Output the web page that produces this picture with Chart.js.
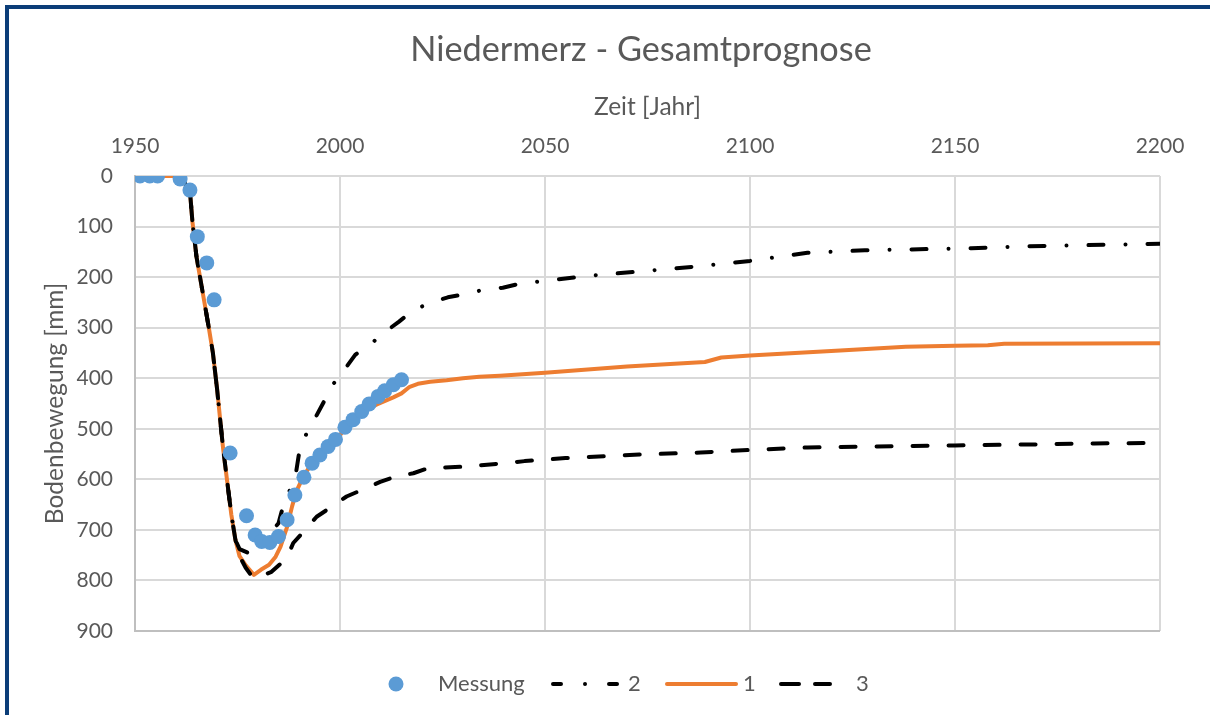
<!DOCTYPE html>
<html>
<head>
<meta charset="utf-8">
<script src="https://cdn.jsdelivr.net/npm/chart.js@4.4.1/dist/chart.umd.min.js"></script>
<style>
  html, body { margin: 0; padding: 0; background: #fff; overflow: hidden; }
  #wrap { position: relative; width: 1210px; height: 715px; }
  #frame { position: absolute; left: 5px; top: 5px; right: -10px; bottom: -10px;
           border-left: 4px solid #0b3d78; border-top: 4px solid #0b3d78; pointer-events: none; }
</style>
</head>
<body>
<div id="wrap">
  <canvas id="chart" width="1210" height="715"></canvas>
  <div id="frame"></div>
</div>
<script>
// ---- data ----
const TITLE = "Niedermerz - Gesamtprognose";
const X_TITLE = "Zeit [Jahr]";
const Y_TITLE = "Bodenbewegung [mm]";

// Messung (blue points)
const messungYears  = [1951.2, 1953.6, 1955.5, 1961, 1963.4, 1965.2, 1967.5, 1969.3, 1973.2, 1977.2, 1979.3, 1980.9, 1982.9,
                       1985, 1987.1, 1989, 1991.2, 1993.2, 1995.1, 1997.1, 1998.9, 2001.2, 2003.2, 2005.3, 2007.1, 2009.3, 2010.9, 2013, 2015];
const messungValues = [0, 0, 0, 6, 28, 120, 172, 245, 548, 672, 710, 723, 725,
                       713, 680, 631, 596, 568, 552, 535, 521, 497, 482, 466, 451, 436, 425, 413, 403];

// Prognose 1 (orange)
const years1  = [1951, 1960, 1962, 1963.5, 1964, 1965, 1966.5, 1968, 1969, 1970, 1971.5, 1973.5, 1974.5, 1975.5, 1977, 1979,
                 1980.7, 1982.7, 1984.3, 1985.5, 1987.1, 1988.3, 1989.3, 1991, 1993, 1995, 1997, 1999, 2001, 2003, 2005, 2007,
                 2009, 2011, 2013, 2015, 2017, 2019, 2022, 2026, 2030, 2034, 2039, 2050, 2070, 2089, 2093, 2100, 2122, 2138,
                 2150, 2158, 2162, 2200];
const values1 = [0, 0, 10, 40, 90, 160, 230, 300, 350, 420, 540, 670, 720, 752, 770, 789,
                 779, 769, 753, 733, 694, 654, 625, 595, 570, 553, 537, 522, 503, 488, 472, 460,
                 452, 445, 438, 430, 417, 411, 407, 404, 400, 397, 395, 389, 377, 368, 359, 355, 345, 338,
                 336, 335, 332, 331];

// Prognose 2 (dash-dot)
const years2  = [1951, 1960, 1962, 1963.5, 1964, 1965, 1966.5, 1968, 1969, 1970, 1971.5, 1973.5, 1974.5, 1975.5, 1977.5,
                 1979.7, 1981.5, 1983.3, 1985, 1986.2, 1987.8, 1989, 1990.1, 1992, 1994, 1996.1, 1998.5, 2001, 2003.7,
                 2006, 2007.7, 2010.6, 2014.4, 2018, 2022, 2026.3, 2031, 2035, 2039.7, 2044, 2046.3, 2060, 2073, 2087,
                 2100, 2114, 2128, 2154, 2167, 2181, 2200];
const values2 = [0, 0, 10, 40, 90, 160, 230, 300, 350, 420, 540, 670, 720, 738, 745,
                 746, 725, 703, 687, 651, 621, 601, 544, 506, 478, 446, 410, 384, 354,
                 340, 331, 311, 288, 265, 251, 240, 233, 225, 221, 213, 211, 198, 189, 179,
                 168, 152, 147, 143, 139, 137, 134];

// Prognose 3 (dashed)
const years3  = [1951, 1960, 1962, 1963.5, 1964, 1965, 1966.5, 1968, 1969, 1970, 1971.5, 1973.5, 1974.5, 1975.5, 1977,
                 1978.9, 1980.5, 1983.3, 1987, 1988.6, 1991.5, 1994.3, 1998, 2001.6, 2005.3, 2009.8, 2013.4, 2017.9, 2021.5,
                 2030, 2039, 2045, 2055, 2073, 2088, 2097, 2114, 2131, 2150, 2169, 2184, 2200];
const values3 = [0, 0, 10, 40, 90, 160, 230, 300, 350, 420, 540, 670, 720, 752, 775,
                 796, 792, 783, 756, 726, 700, 674, 654, 634, 621, 605, 595, 588, 578,
                 575, 569, 564, 558, 551, 547, 543, 537, 535, 533, 531, 529, 528];

const xTicks = [1950, 2000, 2050, 2100, 2150, 2200];
const yTicks = [0, 100, 200, 300, 400, 500, 600, 700, 800, 900];

// ---- helpers ----
const pts = (xs, ys) => xs.map((x, i) => ({ x: x, y: ys[i] }));
const FONT = "Lato";
const TXT = "#595959";
const BLUE = "#5B9BD5", ORANGE = "#ED7D31", BLACK = "#000000";

// title is centred a bit right of the canvas middle, like in the original
const titleShift = {
  id: "titleShift",
  afterLayout(chart) {
    if (chart.titleBlock) { chart.titleBlock.left = 122; chart.titleBlock.right = 1160; }
  }
};

// hand drawn legend in the style of the original
const legendPlugin = {
  id: "bottomLegend",
  afterDraw(chart) {
    const ctx = chart.ctx;
    const y = 684;
    ctx.save();
    ctx.font = "22px " + FONT;
    ctx.fillStyle = TXT;
    ctx.textBaseline = "middle";
    ctx.textAlign = "left";

    ctx.beginPath();
    ctx.fillStyle = BLUE;
    ctx.arc(396, y, 7.5, 0, Math.PI * 2);
    ctx.fill();
    ctx.fillStyle = TXT;
    ctx.fillText("Messung", 438, y);

    ctx.lineWidth = 4;
    ctx.lineCap = "round";
    ctx.strokeStyle = BLACK;
    ctx.setLineDash([8, 24, 0.01, 24]);
    ctx.beginPath(); ctx.moveTo(553, y); ctx.lineTo(618, y); ctx.stroke();
    ctx.fillText("2", 628, y);

    ctx.setLineDash([]);
    ctx.strokeStyle = ORANGE;
    ctx.beginPath(); ctx.moveTo(667, y); ctx.lineTo(736, y); ctx.stroke();
    ctx.fillText("1", 743, y);

    ctx.strokeStyle = BLACK;
    ctx.setLineDash([18, 16]);
    ctx.beginPath(); ctx.moveTo(781, y); ctx.lineTo(830, y); ctx.stroke();
    ctx.setLineDash([]);
    ctx.fillText("3", 856, y);
    ctx.restore();
  }
};

const ctx = document.getElementById("chart").getContext("2d");
const chart = new Chart(ctx, {
  type: "scatter",
  data: {
    datasets: [
      { label: "Messung", data: pts(messungYears, messungValues), showLine: false,
        pointRadius: 7.5, pointHoverRadius: 7.5, pointBackgroundColor: BLUE, pointBorderWidth: 0, order: 0 },
      { label: "2", data: pts(years2, values2), showLine: true, pointRadius: 0, borderColor: BLACK,
        borderWidth: 4, borderDash: [15, 22, 0.01, 22], borderCapStyle: "round", borderJoinStyle: "round", tension: 0, order: 1 },
      { label: "3", data: pts(years3, values3), showLine: true, pointRadius: 0, borderColor: BLACK,
        borderWidth: 4, borderDash: [15, 21], borderCapStyle: "round", borderJoinStyle: "round", tension: 0, order: 2 },
      { label: "1", data: pts(years1, values1), showLine: true, pointRadius: 0, borderColor: ORANGE,
        borderWidth: 4, borderCapStyle: "round", borderJoinStyle: "round", tension: 0, order: 3 }
    ]
  },
  options: {
    responsive: false,
    animation: false,
    devicePixelRatio: 1,
    layout: { padding: { left: 0, right: 50, top: 0, bottom: 84 } },
    plugins: {
      legend: { display: false },
      tooltip: { enabled: false },
      title: { display: true, text: TITLE, color: TXT,
               font: { family: FONT, size: 34.3, weight: "normal" }, padding: { top: 29, bottom: 0 } }
    },
    scales: {
      x: {
        type: "linear", position: "top", min: 1950, max: 2200,
        afterBuildTicks: s => { s.ticks = xTicks.map(v => ({ value: v })); },
        afterFit: s => { s.height = 105.8; },
        ticks: { color: TXT, font: { family: FONT, size: 21 }, padding: 17, callback: v => String(v) },
        grid: { color: c => c.tick && c.tick.value === 1950 ? "#bfbfbf" : "#d9d9d9", lineWidth: 2, drawTicks: false },
        border: { display: false },
        title: { display: true, text: X_TITLE, color: TXT, font: { family: FONT, size: 24.5 }, padding: { top: 22, bottom: 0 } }
      },
      y: {
        type: "linear", reverse: true, min: 0, max: 900,
        afterBuildTicks: s => { s.ticks = yTicks.map(v => ({ value: v })); },
        afterFit: s => { s.width = 135; },
        ticks: { color: TXT, font: { family: FONT, size: 21 }, padding: 22 },
        grid: { color: c => c.tick && c.tick.value === 900 ? "#bfbfbf" : "#d9d9d9", lineWidth: 2, drawTicks: false },
        border: { display: true, color: "#bfbfbf", width: 2 },
        title: { display: true, text: Y_TITLE, color: TXT, font: { family: FONT, size: 24.5 }, padding: { top: 40, bottom: 0 } }
      }
    }
  },
  plugins: [titleShift, legendPlugin]
});
</script>
</body>
</html>
